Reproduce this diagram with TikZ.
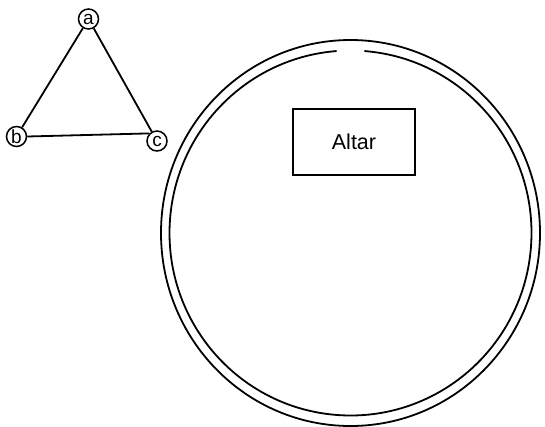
\documentclass[tikz,border=0pt]{standalone}
\usepackage{fontspec}
\setmainfont{Liberation Sans}
\usetikzlibrary{calc}
\begin{document}
\begin{tikzpicture}[x=1pt,y=-1pt,
  line width=1.8pt,
  vertex/.style={circle,draw,line width=1.5pt,minimum size=20pt,inner sep=0pt,font=\fontsize{19}{19}\selectfont},
  altarbox/.style={draw,line width=1.9pt,minimum width=122pt,minimum height=66pt,font=\fontsize{21.5}{21.5}\selectfont}]
\useasboundingbox (0,0) rectangle (545,426);
% graph
\node[vertex] (a) at (88.5,19) {a};
\node[vertex] (b) at (16.5,136.5) {b};
\node[vertex] (c) at (157,141) {c};
\draw (a) -- (b);
\draw (a) -- (c);
\draw (b.east) -- (c.north west);
% ring
\coordinate (ctr) at (350.5,233);
\draw (ctr) ellipse [x radius=189.5, y radius=193];
\draw ($(ctr)+(-85.6:181 and 182.5)$) arc [start angle=-85.6, end angle=265.6, x radius=181, y radius=182.5];
% altar
\node[altarbox] (altar) at (354,142) {Altar};
\end{tikzpicture}
\end{document}
